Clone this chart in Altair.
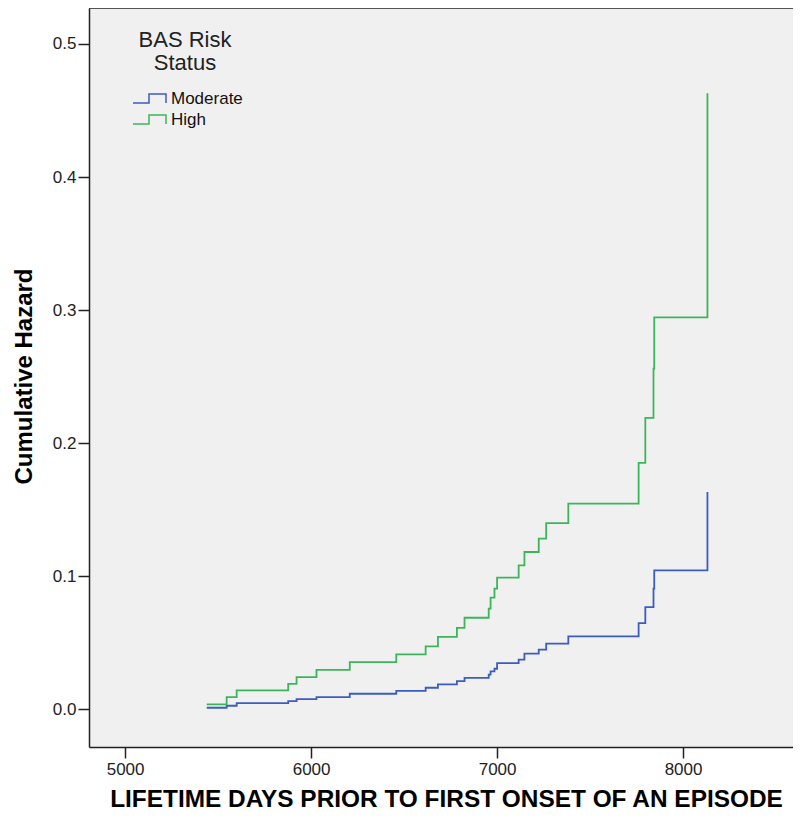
import altair as alt
import pandas as pd

# Event times (days) at which both cumulative hazard curves step
days = [5439, 5546, 5600, 5877, 5922, 6029, 6208, 6458, 6616, 6682, 6784, 6825,
        6955, 6965, 6986, 7000, 7116, 7147, 7224, 7264, 7383, 7761, 7797, 7841,
        7845, 8131]
hazard_moderate = [0.0013, 0.0028, 0.0047, 0.0062, 0.0077, 0.0092, 0.0118, 0.0139,
                   0.0163, 0.0188, 0.0213, 0.0238, 0.0261, 0.0286, 0.0306, 0.0348,
                   0.0374, 0.0419, 0.0449, 0.0494, 0.0549, 0.0649, 0.0769, 0.0908,
                   0.1045, 0.1634]
hazard_high = [0.0038, 0.0092, 0.0143, 0.0193, 0.0243, 0.0298, 0.0356, 0.0414,
               0.0474, 0.0545, 0.0613, 0.0689, 0.0757, 0.0840, 0.0908, 0.0990,
               0.1083, 0.1183, 0.1283, 0.1400, 0.1547, 0.1852, 0.2190, 0.2560,
               0.2945, 0.4630]
groups = ["Moderate", "High"]
colors = ["#3d5cc0", "#3cb55a"]
x_ticks = [5000, 6000, 7000, 8000]
y_ticks = [0.0, 0.1, 0.2, 0.3, 0.4, 0.5]

rows = []
for d, m, h in zip(days, hazard_moderate, hazard_high):
    rows.append({"days": d, "hazard": m, "group": "Moderate"})
    rows.append({"days": d, "hazard": h, "group": "High"})
df = pd.DataFrame(rows)

W, H = 704, 739
FONT = "Liberation Sans"

lines = alt.Chart(df).mark_line(interpolate="step-after", strokeWidth=1.8).encode(
    x=alt.X("days:Q",
            scale=alt.Scale(domain=[4806, 8591], nice=False, zero=False),
            axis=alt.Axis(values=x_ticks, format="d", grid=False,
                          title="LIFETIME DAYS PRIOR TO FIRST ONSET OF AN EPISODE",
                          titleFontSize=24.4,
                          labelPadding=3, titleX=357, titleY=52,
                          titleBaseline="middle", titleAlign="center")),
    y=alt.Y("hazard:Q",
            scale=alt.Scale(domain=[-0.0282, 0.527], nice=False, zero=False),
            axis=alt.Axis(values=y_ticks, format=".1f", grid=False,
                          title="Cumulative Hazard", labelPadding=2,
                          titleAngle=270, titleX=-65, titleY=368,
                          titleBaseline="middle", titleAlign="center")),
    color=alt.Color("group:N",
                    scale=alt.Scale(domain=groups, range=colors),
                    sort=groups,
                    legend=alt.Legend(
                        title=["BAS Risk", "Status"],
                        orient="none", legendX=38, legendY=22,
                        titleFontSize=22, titleFontWeight="normal",
                        titleFont=FONT, titleColor="#222",
                        titleAnchor="middle", titleAlign="center",
                        titleLineHeight=23, titlePadding=15,
                        labelFont=FONT, labelFontSize=17, labelColor="#111",
                        labelOffset=27,
                        symbolType="M-0.5,0.9H2.7V-0.9H6.1V0.9",
                        symbolSize=100, symbolStrokeWidth=1.5,
                        symbolFillColor="transparent",
                        rowPadding=3, padding=0)),
)

frame_top = alt.Chart(pd.DataFrame({"k": [0]})).mark_rule(
    color="#222", strokeWidth=1.5
).encode(x=alt.value(0), x2=alt.value(W), y=alt.value(0))

chart = alt.layer(lines, frame_top).properties(
    width=W, height=H,
    autosize=alt.AutoSizeParams(type="none"),
    padding={"left": 81, "top": 0, "right": 0, "bottom": 65},
).configure_view(
    fill="#f0f0f0", stroke=None
).configure_axis(
    domainColor="#222", domainWidth=1.5,
    tickColor="#222", tickWidth=1.5, tickSize=11,
    labelFont=FONT, labelFontSize=17, labelColor="#222",
    titleFont=FONT, titleFontSize=24, titleFontWeight="bold", titleColor="#000",
)

chart.save("out.html", embed_options={"renderer": "svg", "actions": False})
